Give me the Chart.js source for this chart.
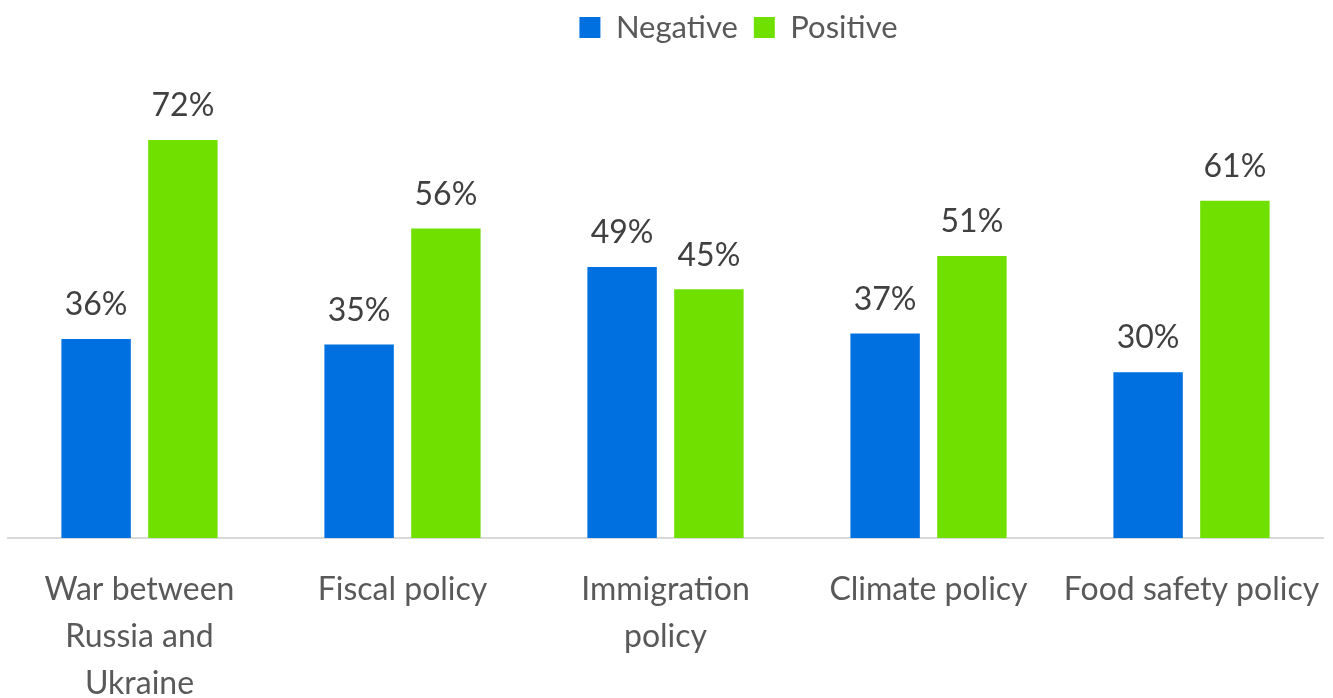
<!DOCTYPE html>
<html>
<head>
<meta charset="utf-8">
<script src="https://cdn.jsdelivr.net/npm/chart.js@4/dist/chart.umd.min.js"></script>
<style>
  html, body { margin: 0; padding: 0; background: #ffffff; }
  #wrap { width: 1333px; height: 698px; }
</style>
</head>
<body>
<div id="wrap"><canvas id="chart" width="1333" height="698"></canvas></div>
<script>
// Topics and their share of negative / positive sentiment (percent)
const categories = [
  ["War between", "Russia and", "Ukraine"],
  "Fiscal policy",
  ["Immigration", "policy"],
  "Climate policy",
  "Food safety policy"
];
const negativeValues = [36, 35, 49, 37, 30];
const positiveValues = [72, 56, 45, 51, 61];

const FONT = "Lato, 'Open Sans', sans-serif";

// Writes each bar's value above it
const valueLabels = {
  id: "valueLabels",
  afterDatasetsDraw(chart) {
    const ctx = chart.ctx;
    ctx.save();
    ctx.font = "32px " + FONT;
    ctx.fillStyle = "#404040";
    ctx.textAlign = "center";
    ctx.textBaseline = "bottom";
    chart.data.datasets.forEach((ds, i) => {
      chart.getDatasetMeta(i).data.forEach((bar, j) => {
        ctx.fillText(ds.data[j] + "%", bar.x, bar.y - 18);
      });
    });
    ctx.restore();
  }
};

// Moves the legend row a little right of centre and slightly up
const legendShift = {
  id: "legendShift",
  afterLayout(chart) {
    if (chart.legend) {
      chart.legend.left += 73;
      chart.legend.right += 73;
      chart.legend.top -= 4;
      chart.legend.bottom -= 4;
    }
  }
};

new Chart(document.getElementById("chart"), {
  type: "bar",
  data: {
    labels: categories,
    datasets: [
      { label: "Negative", data: negativeValues, backgroundColor: "#0070E0" },
      { label: "Positive", data: positiveValues, backgroundColor: "#70E000" }
    ]
  },
  options: {
    responsive: false,
    animation: false,
    devicePixelRatio: 1,
    layout: { padding: { left: 8, right: 10, top: 0, bottom: 0 } },
    datasets: { bar: { categoryPercentage: 0.66, barPercentage: 0.8 } },
    plugins: {
      tooltip: { enabled: false },
      legend: {
        position: "top",
        labels: {
          font: { family: FONT, size: 31 },
          color: "#595959",
          boxWidth: 21,
          boxHeight: 21,
          padding: 16
        }
      }
    },
    scales: {
      x: {
        grid: { display: false, drawTicks: false },
        border: { display: true, color: "#d9d9d9", width: 2 },
        ticks: {
          font: { family: FONT, size: 32, lineHeight: 1.47 },
          color: "#595959",
          padding: 28,
          maxRotation: 0,
          autoSkip: false
        },
        afterFit(scale) {
          scale.height = 160;
          scale.paddingLeft = 0;
          scale.paddingRight = 0;
        }
      },
      y: {
        display: false,
        min: 0,
        max: 87
      }
    }
  },
  plugins: [valueLabels, legendShift]
});
</script>
</body>
</html>
